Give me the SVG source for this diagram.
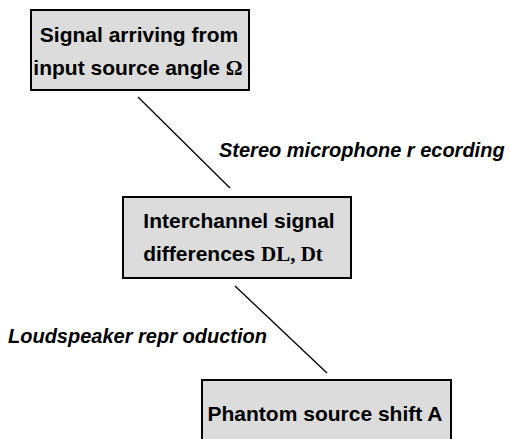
<svg xmlns="http://www.w3.org/2000/svg" width="510" height="439" viewBox="0 0 510 439">
<style>
.box{fill:#dcdcdc;stroke:#000;stroke-width:2}
.t{font-family:"Liberation Sans",Arial,sans-serif;font-weight:bold;font-size:21px;fill:#000;text-anchor:middle}
.s{font-family:"Liberation Serif","Times New Roman",serif;font-weight:bold}
.lbl{font-family:"Liberation Sans",Arial,sans-serif;font-weight:bold;font-style:italic;font-size:20px;fill:#000}
.ln{stroke:#000;stroke-width:1.3;fill:none}
</style>
<rect width="510" height="439" fill="#fff"/>
<g id="connectors">
<line class="ln" x1="138" y1="97" x2="230" y2="188"/>
<line class="ln" x1="235" y1="286" x2="327" y2="373"/>
<text class="lbl" x="219" y="157">Stereo microphone r ecording</text>
<text class="lbl" x="8" y="343">Loudspeaker repr oduction</text>
</g>
<g id="node1">
<rect class="box" x="31" y="10" width="218" height="80"/>
<text class="t" x="139" y="42">Signal arriving from</text>
<text class="t" x="138" y="75">input source angle <tspan class="s">Ω</tspan></text>
</g>
<g id="node2">
<rect class="box" x="123" y="197" width="228" height="81"/>
<text class="t" x="239" y="228">Interchannel signal</text>
<text class="t" x="233" y="261">differences <tspan class="s">DL, Dt</tspan></text>
</g>
<g id="node3">
<rect class="box" x="202" y="380" width="249" height="70"/>
<text class="t" x="325" y="421">Phantom source shift A</text>
</g>
</svg>
